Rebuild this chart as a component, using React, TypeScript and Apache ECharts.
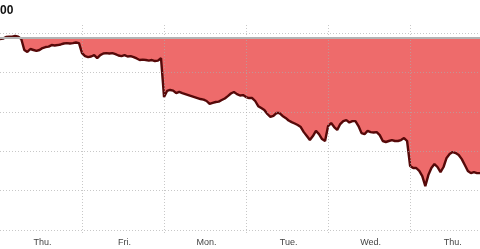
import React, { useEffect, useRef } from "react";
import * as echarts from "echarts";

const titleText = "00";
const dayLabels = ["Thu.", "Fri.", "Mon.", "Tue.", "Wed.", "Thu."];
const sessionTimes = [
  "09:30", "09:45", "10:00", "10:15", "10:30", "10:45", "11:00", "11:15", "11:30",
  "11:45", "12:00", "12:15", "12:30", "12:45", "13:00", "13:15", "13:30", "13:45",
  "14:00", "14:15", "14:30", "14:45", "15:00", "15:15", "15:30", "15:45", "16:00",
];

const thu1 = [
  4497.0, 4497.2, 4498.0, 4498.2, 4498.2, 4498.5, 4498.2, 4497.0, 4491.4, 4490.4,
  4491.9, 4491.4, 4490.9, 4491.4, 4492.4, 4492.9, 4493.1, 4493.9, 4493.7, 4493.9,
  4494.2, 4494.7, 4494.9, 4494.7, 4494.9, 4495.2, 4494.9,
];
const fri = [
  4489.8, 4488.3, 4487.8, 4488.1, 4488.8, 4487.3, 4488.8, 4489.6, 4489.8, 4489.6,
  4489.8, 4489.3, 4488.6, 4488.3, 4488.8, 4488.1, 4488.3, 4487.8, 4487.1, 4486.3,
  4486.5, 4486.3, 4486.0, 4486.3, 4485.8, 4486.0, 4487.3,
];
const mon = [
  4467.5, 4470.6, 4471.1, 4470.8, 4469.5, 4470.1, 4469.5, 4469.0, 4468.5, 4468.0,
  4467.5, 4467.0, 4466.5, 4466.2, 4465.5, 4464.0, 4464.5, 4465.0, 4465.2, 4466.0,
  4466.8, 4468.0, 4469.3, 4470.1, 4469.0, 4468.3, 4468.5,
];
const tue = [
  4467.5, 4467.0, 4467.0, 4465.5, 4462.9, 4461.9, 4460.9, 4458.9, 4457.4, 4457.9,
  4459.4, 4459.4, 4457.9, 4456.9, 4455.6, 4454.8, 4454.1, 4453.3, 4452.3, 4449.7,
  4447.7, 4445.7, 4447.7, 4450.3, 4448.7, 4446.2, 4445.2,
];
const wed = [
  4452.8, 4454.3, 4452.3, 4450.8, 4453.8, 4455.3, 4455.8, 4454.6, 4455.3, 4455.3,
  4452.8, 4449.2, 4448.7, 4450.3, 4449.7, 4449.5, 4449.7, 4448.2, 4445.2, 4444.7,
  4445.2, 4445.7, 4445.2, 4445.2, 4445.7, 4446.7, 4445.2,
];
const thu2 = [
  4432.5, 4431.5, 4431.5, 4430.0, 4427.4, 4422.3, 4427.9, 4431.5, 4433.5, 4432.0,
  4429.4, 4432.0, 4436.6, 4438.6, 4439.6, 4439.1, 4438.1, 4436.0, 4433.0, 4430.0,
  4428.9, 4429.4, 4428.9, 4428.9,
];

const previousClose = 4497.7;
const gridValues = [4400, 4420, 4440, 4460, 4480, 4500];
const yMin = 4398.5;
const yMax = 4505.1;

const dailySeries = [thu1, fri, mon, tue, wed, thu2];
const perDay = sessionTimes.length;
const labelSlot = 14;

export default function App() {
  const ref = useRef<HTMLDivElement>(null);

  useEffect(() => {
    if (!ref.current) return;
    const chart = echarts.init(ref.current, null, { renderer: "svg" });

    const categories: string[] = [];
    const values: number[] = [];
    dailySeries.forEach((day, d) => {
      day.forEach((v, i) => {
        categories.push(`${d}|${dayLabels[d]}|${sessionTimes[i]}`);
        values.push(v);
      });
    });

    const gridColor = "rgba(170,170,170,0.65)";
    const dotted = [1, 2];

    const markData: any[] = [];
    gridValues.forEach((g) => {
      markData.push({ yAxis: g, lineStyle: { color: gridColor, width: 1, type: dotted } });
    });
    for (let d = 1; d < dailySeries.length; d++) {
      markData.push({
        xAxis: categories[d * perDay],
        lineStyle: { color: gridColor, width: 1, type: dotted },
      });
    }
    markData.push({ yAxis: previousClose, lineStyle: { color: "#b3b3b3", width: 2, type: "solid" } });

    chart.setOption({
      animation: false,
      grid: { left: -1.5, right: 0, top: 23, bottom: 16 },
      xAxis: {
        type: "category",
        data: categories,
        boundaryGap: false,
        axisLine: { show: false },
        axisTick: { show: false },
        splitLine: { show: false },
        axisLabel: {
          interval: (index: number) => index % perDay === labelSlot,
          formatter: (value: string) => value.split("|")[1],
          color: "#444",
          fontSize: 9,
          fontFamily: "Liberation Sans, Arial, sans-serif",
          margin: 4,
        },
      },
      yAxis: {
        type: "value",
        min: yMin,
        max: yMax,
        axisLine: { show: false },
        axisTick: { show: false },
        axisLabel: { show: false },
        splitLine: { show: false },
      },
      graphic: [
        {
          type: "text",
          x: 0,
          y: 10,
          style: {
            text: titleText,
            align: "left",
            verticalAlign: "middle",
            font: "bold 12px Liberation Sans, Arial, sans-serif",
            fill: "#111",
          },
        },
      ],
      series: [
        {
          type: "line",
          data: values,
          showSymbol: false,
          symbol: "none",
          lineStyle: { color: "#560909", width: 2.4 },
          areaStyle: { color: "#ee6b6b", opacity: 1, origin: previousClose },
          markLine: {
            silent: true,
            symbol: ["none", "none"],
            label: { show: false },
            data: markData,
          },
        },
      ],
    });

    return () => chart.dispose();
  }, []);

  return (
    <div
      ref={ref}
      style={{ position: "fixed", left: 0, top: 0, width: 480, height: 249 }}
    />
  );
}
